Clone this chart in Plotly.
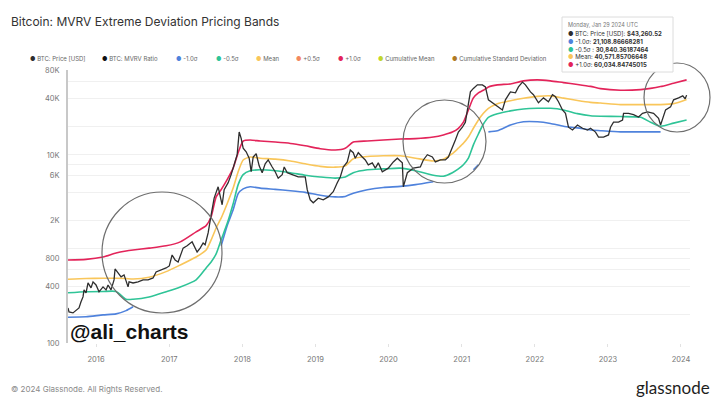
#!/usr/bin/env python3
"""Bitcoin MVRV extreme deviation pricing bands (glassnode style) in Plotly."""

import math

import plotly.graph_objects as go

# ---- data --------------------------------------------------------------

price_dates = [
    "2015-08-14", "2015-08-19", "2015-09-08", "2015-09-23", "2015-10-08", "2015-10-18",
    "2015-10-28", "2015-11-02", "2015-11-12", "2015-11-22", "2015-12-07", "2015-12-17",
    "2016-01-01", "2016-01-16", "2016-02-05", "2016-02-20", "2016-03-01", "2016-03-16",
    "2016-03-31", "2016-04-05", "2016-04-20", "2016-05-05", "2016-05-20", "2016-06-09",
    "2016-06-14", "2016-07-04", "2016-07-29", "2016-08-23", "2016-09-17", "2016-10-12",
    "2016-10-27", "2016-11-21", "2016-12-16",
    "2017-01-01", "2017-01-15", "2017-01-30", "2017-02-14", "2017-03-11", "2017-03-31",
    "2017-04-25", "2017-05-20", "2017-06-04", "2017-06-19", "2017-06-29", "2017-07-14",
    "2017-07-29", "2017-08-13", "2017-09-02", "2017-09-12", "2017-09-22", "2017-10-02",
    "2017-10-22", "2017-11-06", "2017-11-21", "2017-12-06", "2017-12-16", "2017-12-26",
    "2018-01-05", "2018-01-20", "2018-02-04", "2018-02-14", "2018-02-24", "2018-03-11",
    "2018-03-26", "2018-04-10", "2018-04-25", "2018-05-10", "2018-05-30", "2018-06-14",
    "2018-06-29", "2018-07-19", "2018-07-29", "2018-08-13", "2018-09-07", "2018-10-07",
    "2018-11-11", "2018-11-21", "2018-12-06", "2018-12-21",
    "2019-01-15", "2019-02-09", "2019-03-06", "2019-03-31", "2019-04-20", "2019-05-05",
    "2019-05-20", "2019-06-09", "2019-06-24", "2019-07-09", "2019-07-19", "2019-08-03",
    "2019-08-23", "2019-09-07", "2019-09-22", "2019-10-12", "2019-10-27", "2019-11-11",
    "2019-12-01", "2019-12-16", "2019-12-31",
    "2020-01-25", "2020-02-14", "2020-02-29", "2020-03-10", "2020-03-15", "2020-04-04",
    "2020-05-04", "2020-06-08", "2020-06-23", "2020-07-13", "2020-08-07", "2020-08-22",
    "2020-09-16", "2020-10-11", "2020-10-26", "2020-11-15", "2020-11-30", "2020-12-15",
    "2021-01-04", "2021-01-19", "2021-02-03", "2021-02-13", "2021-02-28", "2021-03-20",
    "2021-04-14", "2021-04-29", "2021-05-14", "2021-06-03", "2021-06-28", "2021-07-23",
    "2021-08-07", "2021-09-01", "2021-09-26", "2021-10-11", "2021-10-31", "2021-11-15",
    "2021-12-10", "2021-12-25",
    "2022-01-19", "2022-02-13", "2022-03-10", "2022-03-30", "2022-04-14", "2022-04-29",
    "2022-05-19", "2022-06-03", "2022-06-18", "2022-07-08", "2022-08-02", "2022-08-27",
    "2022-09-21", "2022-10-06", "2022-10-31", "2022-11-15", "2022-12-10",
    "2023-01-04", "2023-01-14", "2023-01-29", "2023-02-23", "2023-03-15", "2023-03-20",
    "2023-04-14", "2023-05-09", "2023-06-03", "2023-06-23", "2023-07-18", "2023-08-17",
    "2023-09-11", "2023-09-21", "2023-10-01", "2023-10-16", "2023-11-10", "2023-11-25",
    "2023-12-20",
    "2024-01-10", "2024-01-22", "2024-01-29",
]
price_usd = [
    236, 214, 209, 225, 236, 274, 309, 367, 341, 435, 386, 447,
    414, 350, 395, 367, 414, 367, 469, 613, 557, 505, 530, 395, 447, 435, 447, 469,
    469, 492, 570, 598, 628,
    660, 862, 764, 727, 1020, 1080, 1190, 930, 1020, 1160, 1110, 1480, 2310, 3470,
    4580, 3580, 2950, 4270, 5070, 6170, 7850, 10050, 17500, 15000,
    11800, 10800, 9230, 6630, 9500, 10300, 7650, 6470, 8040, 8840, 7440, 6630, 5660,
    6170, 7440, 6470, 6170, 5830, 5830, 4270, 3330, 3100,
    3470, 3330, 3580, 4060, 5070, 5830, 7440, 8430, 11300, 10560, 9230, 10560, 9500,
    8840, 7850, 8230, 7230, 8230, 6630, 6950, 7230,
    8430, 9230, 8630, 8230, 4580, 6470, 7230, 7440, 8840, 10050, 9500, 8430, 8840,
    8840, 9500, 11800, 14400, 17500,
    19700, 22300, 35900, 46800, 51000, 55600, 55600, 52900, 38500, 35900, 32400,
    30100, 38500, 46800, 45800, 52900, 59500, 55600, 46800, 43700,
    35900, 40400, 36800, 43700, 41500, 36800, 30100, 27700, 19700, 18400, 20800,
    19200, 18400, 19200, 17500, 15500, 15500,
    16300, 19700, 22300, 22300, 23500, 27700, 27700, 26800, 25300, 27700, 28700,
    27700, 24500, 20800, 24500, 30100, 32400, 38500, 40400,
    42500, 39500, 43260.52,
]

band_dates = [
    "2015-08-14", "2015-11-12", "2016-02-05", "2016-04-10", "2016-05-30", "2016-07-04",
    "2016-09-22", "2016-12-16", "2017-02-25", "2017-05-15", "2017-07-04", "2017-07-29",
    "2017-08-23", "2017-09-17", "2017-10-17", "2017-11-16", "2017-12-11", "2018-01-05",
    "2018-02-09", "2018-03-31", "2018-06-14", "2018-08-29", "2018-11-11", "2019-01-25",
    "2019-04-10", "2019-05-30", "2019-07-09", "2019-09-17", "2019-12-06", "2020-02-29",
    "2020-05-15", "2020-08-12", "2020-10-01", "2020-11-15", "2020-12-15", "2021-01-09",
    "2021-02-03", "2021-02-28", "2021-03-25", "2021-04-19", "2021-05-14", "2021-06-28",
    "2021-09-01", "2021-11-05", "2022-01-14", "2022-03-20", "2022-05-24", "2022-08-02",
    "2022-10-06", "2022-11-25", "2023-03-05", "2023-06-13", "2023-08-02", "2023-09-21",
    "2023-11-25", "2024-01-29",
]
band_plus_1 = [
    764, 775, 822, 907, 952, 975, 1020, 1080, 1190, 1520, 1770, 2200,
    3580, 4270, 5450, 7230, 10560, 14050, 14400, 14050, 13700, 13250, 12500, 11650,
    11300, 11800, 13700, 14050, 14400, 14750, 14900, 15500, 16300, 17500, 19200, 22300,
    30100, 40400, 45800, 48700, 52900, 55600, 56900, 61300, 62800, 61300, 58700, 56200,
    53600, 50700, 48700, 49500, 51000, 53300, 57900, 62800,
]
band_mean = [
    477, 485, 488, 488, 485, 480, 500, 574, 676, 822, 975, 1250,
    1670, 2130, 3030, 4440, 6630, 8840, 9500, 9230, 9020, 8630, 8040, 7560,
    7410, 7650, 9120, 9630, 9800, 9800, 9230, 8630, 9020, 10300, 11800, 13300,
    15500, 19200, 23500, 27700, 31300, 35100, 37700, 40000, 41900, 42500, 40200, 37900,
    36200, 35600, 34300, 34300, 34300, 34300, 35100, 38900,
]
band_minus_05 = [
    342, 351, 353, 353, 292, 292, 309, 351, 394, 469, 628, 727,
    885, 1250, 1860, 3030, 4830, 6170, 6790, 6950, 6790, 6470, 6090, 5830,
    5660, 5830, 6470, 6950, 7100, 7230, 6790, 6090, 5940, 6470, 7100, 7850,
    9230, 12800, 16700, 21300, 25100, 27400, 29400, 30800, 31300, 31300, 30100, 27500,
    26100, 25800, 25600, 25100, 22300, 20200, 21800, 23500,
]
# the -1.0 sigma band has holes where glassnode shows nothing
band_minus_1 = [
    188, 190, 199, 204, 221, 243, None, None, None, None, None, None,
    None, 1080, 1770, 2610, 3870, 4350, 4580, 4440, 4300, 4160, 4000, 3730,
    3580, 3620, 3920, 4270, 4510, 4630, 4830, 5190, None, None, None, None,
    None, 6950, 7850, None, 17600, 18100, 20800, 22500, 22500, 21600, 20200, 19400,
    18400, 18100, 17600, 17600, 17600, 17600, None, None,
]

year_ticks = [f"{y}-01-01" for y in range(2016, 2025)]
year_labels = [str(y) for y in range(2016, 2025)]
y_ticks = [100, 200, 400, 600, 800, 1000, 2000, 4000, 6000, 8000, 10000, 20000, 40000, 60000, 80000]
y_labels = ["100", "", "400", "", "800", "", "2K", "", "6K", "", "10K", "", "40K", "", "80K"]

legend_labels = [
    "BTC: Price [USD]", "BTC: MVRV Ratio", "-1.0σ", "-0.5σ", "Mean", "+0.5σ", "+1.0σ",
    "Cumulative Mean", "Cumulative Standard Deviation",
]
tooltip_date = "Monday, Jan 29 2024 UTC"
tooltip_labels = ["BTC: Price [USD]: ", "-1.0σ: ", "-0.5σ : ", "Mean: ", "+1.0σ: "]
tooltip_values = ["$43,260.52", "21,108.86668281", "30,840.36187464", "40,571.85706648", "60,034.84745015"]

# ---- styling -----------------------------------------------------------

PRICE = "#2e2e2e"
BLUE = "#4f82dc"
GREEN = "#2fc497"
YELLOW = "#f9c65a"
ORANGE = "#f3895f"
RED = "#e3245a"
legend_colors = [PRICE, "#111111", BLUE, GREEN, YELLOW, ORANGE, RED, "#c1d62c", "#b07a22"]
tooltip_colors = [PRICE, BLUE, GREEN, YELLOW, RED]

W, H = 722, 403
L, R, T, B = 68, 32, 70, 60
FONT = "Inter, Roboto, sans-serif"


def px(x):
    return (x - L) / (W - L - R)


def py(y):
    return (H - B - y) / (H - T - B)


def build_figure():
    assert len(price_dates) == len(price_usd)
    fig = go.Figure()

    bands = [
        ("-1.0σ", band_minus_1, BLUE),
        ("-0.5σ", band_minus_05, GREEN),
        ("Mean", band_mean, YELLOW),
        ("+1.0σ", band_plus_1, RED),
    ]
    for name, values, color in bands:
        assert len(values) == len(band_dates)
        fig.add_trace(go.Scatter(
            x=band_dates, y=values, name=name, mode="lines",
            line=dict(color=color, width=1.6, shape="spline", smoothing=0.6),
            connectgaps=False,
        ))

    fig.add_trace(go.Scatter(
        x=price_dates, y=price_usd, name="BTC: Price [USD]", mode="lines",
        line=dict(color=PRICE, width=1.3),
    ))

    annotations = [
        dict(x=px(9), y=py(22), text="Bitcoin: MVRV Extreme Deviation Pricing Bands",
             font=dict(size=12, color="#333333", family=FONT), xanchor="left"),
        dict(x=px(9), y=py(389), text="© 2024 Glassnode. All Rights Reserved.",
             font=dict(size=8, color="#8a8a8a", family=FONT), xanchor="left"),
        dict(x=px(712), y=py(387), text="glassnode",
             font=dict(size=17, color="#1e1e1e", family="Lato, Noto Sans, sans-serif"),
             xanchor="right"),
        dict(x=px(68), y=py(331), text="<b>@ali_charts</b>",
             font=dict(size=21, color="#111111", family="Liberation Sans, Arial, sans-serif"),
             xanchor="left"),
        dict(x=px(566), y=py(25), text=tooltip_date,
             font=dict(size=5.5, color="#777777", family=FONT), xanchor="left"),
    ]

    legend_x = [28, 100, 174, 214, 254, 294, 336, 376, 450]
    for x, label, color in zip(legend_x, legend_labels, legend_colors):
        annotations.append(dict(
            x=px(x), y=py(59), xanchor="left",
            text=f"<span style='color:{color}'>●</span> {label}",
            font=dict(size=6, color="#666666", family=FONT),
        ))

    # hover box rows as one multi-line text so the line spacing stays even
    rows = [
        f"<span style='color:{c}'>●</span> {lab}<b>{val}</b>"
        for lab, val, c in zip(tooltip_labels, tooltip_values, tooltip_colors)
    ]
    annotations.append(dict(
        x=px(565.5), y=py(49), xanchor="left", align="left",
        text="<br>".join(rows),
        font=dict(size=6, color="#333333", family=FONT),
    ))
    for a in annotations:
        a.update(xref="paper", yref="paper", showarrow=False, yanchor="middle")

    # hand-drawn highlight circles and the hover box
    shapes = []
    for x0, y0, x1, y1 in [(102, 192, 222, 313), (403, 100, 486, 183), (644, 63, 710, 132)]:
        shapes.append(dict(type="circle", xref="paper", yref="paper",
                           x0=px(x0), x1=px(x1), y0=py(y1), y1=py(y0),
                           line=dict(color="#6e6e6e", width=1.2), layer="above"))
    shapes.append(dict(type="rect", xref="paper", yref="paper",
                       x0=px(562), x1=px(673), y0=py(72), y1=py(17),
                       fillcolor="white", line=dict(color="#dcdcdc", width=1), layer="above"))

    fig.update_layout(
        width=W, height=H,
        margin=dict(l=L, r=R, t=T, b=B),
        paper_bgcolor="white", plot_bgcolor="white",
        showlegend=False,
        annotations=annotations,
        shapes=shapes,
        font=dict(family=FONT),
    )
    fig.update_xaxes(
        type="date", range=["2015-08-14", "2024-02-15"],
        tickvals=year_ticks, ticktext=year_labels,
        showgrid=False, showline=False, zeroline=False,
        ticks="outside", ticklen=3, tickcolor="#e2e2e2",
        tickfont=dict(size=7.5, color="#777777"), ticklabelstandoff=6,
    )
    fig.update_yaxes(
        type="log", range=[2, math.log10(80000)],
        tickvals=y_ticks, ticktext=y_labels,
        showgrid=True, gridcolor="#f0f0f0", gridwidth=1,
        showline=True, linecolor="#c8c8c8", linewidth=2,
        zeroline=False, ticks="",
        tickfont=dict(size=7.5, color="#777777"), ticklabelstandoff=5,
    )
    return fig


def main():
    fig = build_figure()
    # drop the browser's default body margin so the figure sits at the page corner
    fig.write_html(
        "out.html",
        config={"displayModeBar": False},
        post_script="document.body.style.margin = '0';",
    )


if __name__ == "__main__":
    main()
